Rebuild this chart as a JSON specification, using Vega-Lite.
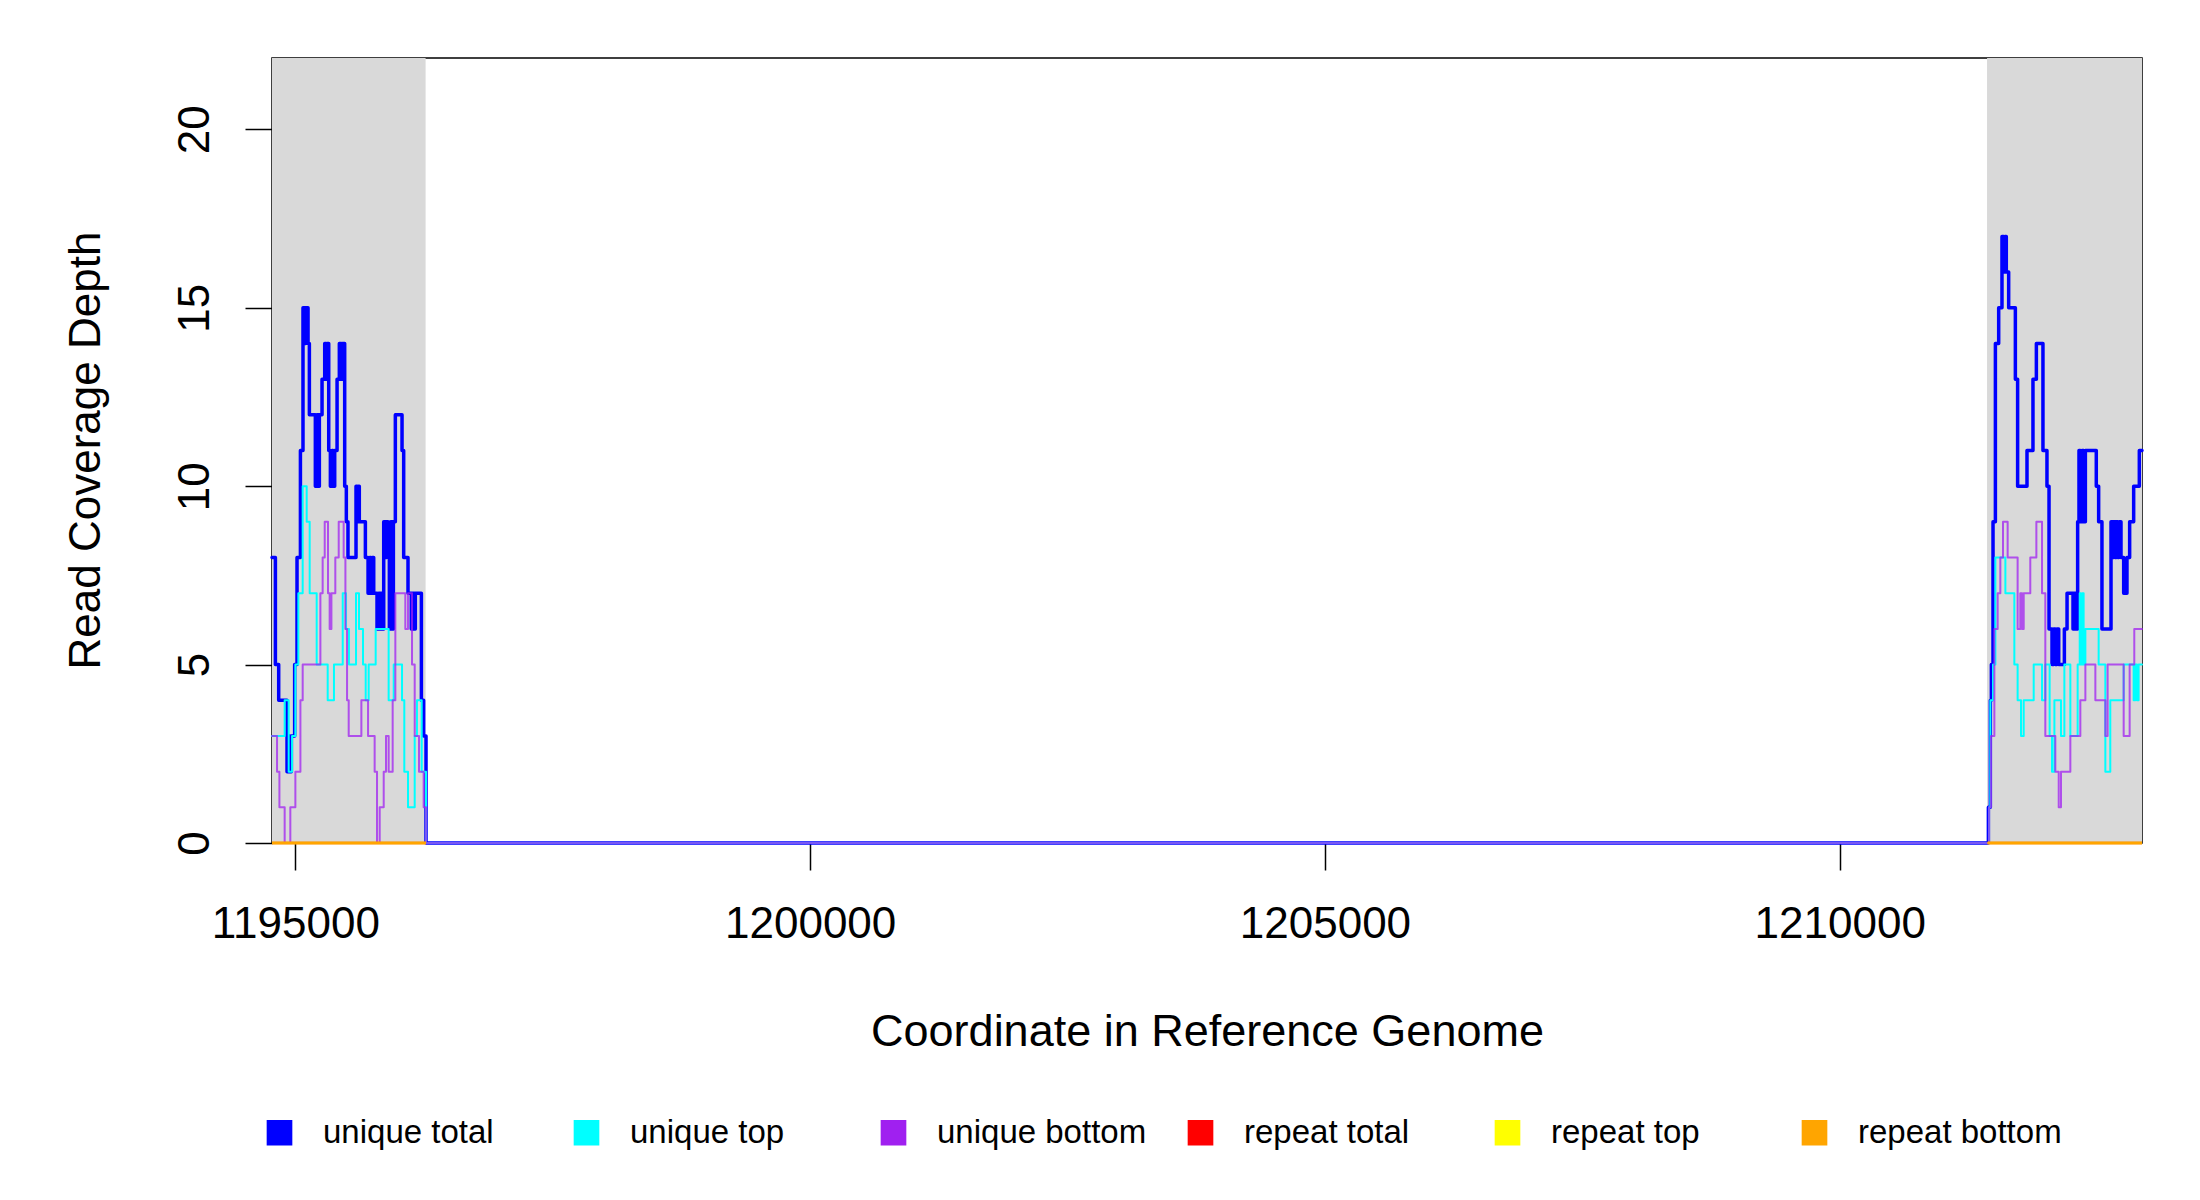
{
  "$schema": "https://vega.github.io/schema/vega-lite/v6.json",
  "width": 1870,
  "height": 785,
  "autosize": "none",
  "padding": {"left": 272, "top": 58, "right": 58, "bottom": 357},
  "background": "white",
  "datasets": {
    "shade": [
      {"start": 1194773, "end": 1196265},
      {"start": 1211431, "end": 1212936}
    ],
    "cov": [
      {"s": "unique total", "seg": "u", "x": 1194773, "d": 8},
      {"s": "unique total", "seg": "u", "x": 1194806, "d": 5},
      {"s": "unique total", "seg": "u", "x": 1194838, "d": 4},
      {"s": "unique total", "seg": "u", "x": 1194919, "d": 2},
      {"s": "unique total", "seg": "u", "x": 1194935, "d": 3},
      {"s": "unique total", "seg": "u", "x": 1194945, "d": 2},
      {"s": "unique total", "seg": "u", "x": 1194961, "d": 3},
      {"s": "unique total", "seg": "u", "x": 1194993, "d": 5},
      {"s": "unique total", "seg": "u", "x": 1195016, "d": 8},
      {"s": "unique total", "seg": "u", "x": 1195049, "d": 11},
      {"s": "unique total", "seg": "u", "x": 1195074, "d": 15},
      {"s": "unique total", "seg": "u", "x": 1195091, "d": 14},
      {"s": "unique total", "seg": "u", "x": 1195100, "d": 15},
      {"s": "unique total", "seg": "u", "x": 1195123, "d": 14},
      {"s": "unique total", "seg": "u", "x": 1195136, "d": 12},
      {"s": "unique total", "seg": "u", "x": 1195194, "d": 10},
      {"s": "unique total", "seg": "u", "x": 1195210, "d": 12},
      {"s": "unique total", "seg": "u", "x": 1195220, "d": 10},
      {"s": "unique total", "seg": "u", "x": 1195233, "d": 12},
      {"s": "unique total", "seg": "u", "x": 1195259, "d": 13},
      {"s": "unique total", "seg": "u", "x": 1195285, "d": 14},
      {"s": "unique total", "seg": "u", "x": 1195298, "d": 13},
      {"s": "unique total", "seg": "u", "x": 1195307, "d": 14},
      {"s": "unique total", "seg": "u", "x": 1195324, "d": 11},
      {"s": "unique total", "seg": "u", "x": 1195340, "d": 10},
      {"s": "unique total", "seg": "u", "x": 1195356, "d": 11},
      {"s": "unique total", "seg": "u", "x": 1195366, "d": 10},
      {"s": "unique total", "seg": "u", "x": 1195382, "d": 11},
      {"s": "unique total", "seg": "u", "x": 1195405, "d": 13},
      {"s": "unique total", "seg": "u", "x": 1195427, "d": 14},
      {"s": "unique total", "seg": "u", "x": 1195447, "d": 13},
      {"s": "unique total", "seg": "u", "x": 1195456, "d": 14},
      {"s": "unique total", "seg": "u", "x": 1195479, "d": 10},
      {"s": "unique total", "seg": "u", "x": 1195495, "d": 9},
      {"s": "unique total", "seg": "u", "x": 1195511, "d": 8},
      {"s": "unique total", "seg": "u", "x": 1195589, "d": 10},
      {"s": "unique total", "seg": "u", "x": 1195602, "d": 9},
      {"s": "unique total", "seg": "u", "x": 1195612, "d": 10},
      {"s": "unique total", "seg": "u", "x": 1195621, "d": 9},
      {"s": "unique total", "seg": "u", "x": 1195680, "d": 8},
      {"s": "unique total", "seg": "u", "x": 1195706, "d": 7},
      {"s": "unique total", "seg": "u", "x": 1195722, "d": 8},
      {"s": "unique total", "seg": "u", "x": 1195735, "d": 7},
      {"s": "unique total", "seg": "u", "x": 1195748, "d": 8},
      {"s": "unique total", "seg": "u", "x": 1195761, "d": 7},
      {"s": "unique total", "seg": "u", "x": 1195793, "d": 6},
      {"s": "unique total", "seg": "u", "x": 1195809, "d": 7},
      {"s": "unique total", "seg": "u", "x": 1195819, "d": 6},
      {"s": "unique total", "seg": "u", "x": 1195832, "d": 7},
      {"s": "unique total", "seg": "u", "x": 1195842, "d": 6},
      {"s": "unique total", "seg": "u", "x": 1195858, "d": 9},
      {"s": "unique total", "seg": "u", "x": 1195874, "d": 8},
      {"s": "unique total", "seg": "u", "x": 1195887, "d": 9},
      {"s": "unique total", "seg": "u", "x": 1195900, "d": 8},
      {"s": "unique total", "seg": "u", "x": 1195913, "d": 6},
      {"s": "unique total", "seg": "u", "x": 1195926, "d": 9},
      {"s": "unique total", "seg": "u", "x": 1195939, "d": 6},
      {"s": "unique total", "seg": "u", "x": 1195952, "d": 9},
      {"s": "unique total", "seg": "u", "x": 1195971, "d": 12},
      {"s": "unique total", "seg": "u", "x": 1196036, "d": 11},
      {"s": "unique total", "seg": "u", "x": 1196052, "d": 8},
      {"s": "unique total", "seg": "u", "x": 1196094, "d": 7},
      {"s": "unique total", "seg": "u", "x": 1196126, "d": 6},
      {"s": "unique total", "seg": "u", "x": 1196139, "d": 7},
      {"s": "unique total", "seg": "u", "x": 1196152, "d": 6},
      {"s": "unique total", "seg": "u", "x": 1196165, "d": 7},
      {"s": "unique total", "seg": "u", "x": 1196224, "d": 4},
      {"s": "unique total", "seg": "u", "x": 1196246, "d": 3},
      {"s": "unique total", "seg": "u", "x": 1196269, "d": 0},
      {"s": "unique total", "seg": "u", "x": 1211437, "d": 0},
      {"s": "unique total", "seg": "u", "x": 1211444, "d": 1},
      {"s": "unique total", "seg": "u", "x": 1211463, "d": 4},
      {"s": "unique total", "seg": "u", "x": 1211473, "d": 5},
      {"s": "unique total", "seg": "u", "x": 1211489, "d": 9},
      {"s": "unique total", "seg": "u", "x": 1211512, "d": 14},
      {"s": "unique total", "seg": "u", "x": 1211544, "d": 15},
      {"s": "unique total", "seg": "u", "x": 1211576, "d": 17},
      {"s": "unique total", "seg": "u", "x": 1211592, "d": 16},
      {"s": "unique total", "seg": "u", "x": 1211605, "d": 17},
      {"s": "unique total", "seg": "u", "x": 1211618, "d": 16},
      {"s": "unique total", "seg": "u", "x": 1211641, "d": 15},
      {"s": "unique total", "seg": "u", "x": 1211706, "d": 13},
      {"s": "unique total", "seg": "u", "x": 1211728, "d": 10},
      {"s": "unique total", "seg": "u", "x": 1211819, "d": 11},
      {"s": "unique total", "seg": "u", "x": 1211877, "d": 13},
      {"s": "unique total", "seg": "u", "x": 1211910, "d": 14},
      {"s": "unique total", "seg": "u", "x": 1211974, "d": 11},
      {"s": "unique total", "seg": "u", "x": 1212013, "d": 10},
      {"s": "unique total", "seg": "u", "x": 1212033, "d": 6},
      {"s": "unique total", "seg": "u", "x": 1212062, "d": 5},
      {"s": "unique total", "seg": "u", "x": 1212078, "d": 6},
      {"s": "unique total", "seg": "u", "x": 1212094, "d": 5},
      {"s": "unique total", "seg": "u", "x": 1212110, "d": 6},
      {"s": "unique total", "seg": "u", "x": 1212127, "d": 5},
      {"s": "unique total", "seg": "u", "x": 1212182, "d": 6},
      {"s": "unique total", "seg": "u", "x": 1212208, "d": 7},
      {"s": "unique total", "seg": "u", "x": 1212266, "d": 6},
      {"s": "unique total", "seg": "u", "x": 1212279, "d": 7},
      {"s": "unique total", "seg": "u", "x": 1212298, "d": 6},
      {"s": "unique total", "seg": "u", "x": 1212311, "d": 9},
      {"s": "unique total", "seg": "u", "x": 1212324, "d": 11},
      {"s": "unique total", "seg": "u", "x": 1212337, "d": 9},
      {"s": "unique total", "seg": "u", "x": 1212353, "d": 11},
      {"s": "unique total", "seg": "u", "x": 1212369, "d": 9},
      {"s": "unique total", "seg": "u", "x": 1212386, "d": 11},
      {"s": "unique total", "seg": "u", "x": 1212492, "d": 10},
      {"s": "unique total", "seg": "u", "x": 1212515, "d": 9},
      {"s": "unique total", "seg": "u", "x": 1212547, "d": 6},
      {"s": "unique total", "seg": "u", "x": 1212635, "d": 9},
      {"s": "unique total", "seg": "u", "x": 1212648, "d": 8},
      {"s": "unique total", "seg": "u", "x": 1212661, "d": 9},
      {"s": "unique total", "seg": "u", "x": 1212674, "d": 8},
      {"s": "unique total", "seg": "u", "x": 1212687, "d": 9},
      {"s": "unique total", "seg": "u", "x": 1212700, "d": 8},
      {"s": "unique total", "seg": "u", "x": 1212712, "d": 9},
      {"s": "unique total", "seg": "u", "x": 1212732, "d": 8},
      {"s": "unique total", "seg": "u", "x": 1212758, "d": 7},
      {"s": "unique total", "seg": "u", "x": 1212790, "d": 8},
      {"s": "unique total", "seg": "u", "x": 1212816, "d": 9},
      {"s": "unique total", "seg": "u", "x": 1212855, "d": 10},
      {"s": "unique total", "seg": "u", "x": 1212910, "d": 11},
      {"s": "unique total", "seg": "u", "x": 1212936, "d": 11},

      {"s": "unique top", "seg": "u", "x": 1194773, "d": 3},
      {"s": "unique top", "seg": "u", "x": 1194896, "d": 4},
      {"s": "unique top", "seg": "u", "x": 1194935, "d": 2},
      {"s": "unique top", "seg": "u", "x": 1194968, "d": 3},
      {"s": "unique top", "seg": "u", "x": 1195000, "d": 5},
      {"s": "unique top", "seg": "u", "x": 1195029, "d": 7},
      {"s": "unique top", "seg": "u", "x": 1195071, "d": 10},
      {"s": "unique top", "seg": "u", "x": 1195110, "d": 9},
      {"s": "unique top", "seg": "u", "x": 1195139, "d": 7},
      {"s": "unique top", "seg": "u", "x": 1195207, "d": 5},
      {"s": "unique top", "seg": "u", "x": 1195314, "d": 4},
      {"s": "unique top", "seg": "u", "x": 1195375, "d": 5},
      {"s": "unique top", "seg": "u", "x": 1195460, "d": 7},
      {"s": "unique top", "seg": "u", "x": 1195492, "d": 6},
      {"s": "unique top", "seg": "u", "x": 1195521, "d": 5},
      {"s": "unique top", "seg": "u", "x": 1195589, "d": 7},
      {"s": "unique top", "seg": "u", "x": 1195618, "d": 6},
      {"s": "unique top", "seg": "u", "x": 1195657, "d": 5},
      {"s": "unique top", "seg": "u", "x": 1195683, "d": 4},
      {"s": "unique top", "seg": "u", "x": 1195712, "d": 5},
      {"s": "unique top", "seg": "u", "x": 1195780, "d": 6},
      {"s": "unique top", "seg": "u", "x": 1195906, "d": 4},
      {"s": "unique top", "seg": "u", "x": 1195955, "d": 5},
      {"s": "unique top", "seg": "u", "x": 1196036, "d": 4},
      {"s": "unique top", "seg": "u", "x": 1196058, "d": 2},
      {"s": "unique top", "seg": "u", "x": 1196094, "d": 1},
      {"s": "unique top", "seg": "u", "x": 1196159, "d": 3},
      {"s": "unique top", "seg": "u", "x": 1196181, "d": 4},
      {"s": "unique top", "seg": "u", "x": 1196227, "d": 2},
      {"s": "unique top", "seg": "u", "x": 1196269, "d": 0},
      {"s": "unique top", "seg": "u", "x": 1211437, "d": 0},
      {"s": "unique top", "seg": "u", "x": 1211450, "d": 1},
      {"s": "unique top", "seg": "u", "x": 1211463, "d": 4},
      {"s": "unique top", "seg": "u", "x": 1211489, "d": 5},
      {"s": "unique top", "seg": "u", "x": 1211512, "d": 8},
      {"s": "unique top", "seg": "u", "x": 1211609, "d": 7},
      {"s": "unique top", "seg": "u", "x": 1211696, "d": 5},
      {"s": "unique top", "seg": "u", "x": 1211728, "d": 4},
      {"s": "unique top", "seg": "u", "x": 1211761, "d": 3},
      {"s": "unique top", "seg": "u", "x": 1211787, "d": 4},
      {"s": "unique top", "seg": "u", "x": 1211884, "d": 5},
      {"s": "unique top", "seg": "u", "x": 1211965, "d": 4},
      {"s": "unique top", "seg": "u", "x": 1211997, "d": 5},
      {"s": "unique top", "seg": "u", "x": 1212039, "d": 3},
      {"s": "unique top", "seg": "u", "x": 1212062, "d": 2},
      {"s": "unique top", "seg": "u", "x": 1212085, "d": 4},
      {"s": "unique top", "seg": "u", "x": 1212149, "d": 3},
      {"s": "unique top", "seg": "u", "x": 1212182, "d": 5},
      {"s": "unique top", "seg": "u", "x": 1212240, "d": 3},
      {"s": "unique top", "seg": "u", "x": 1212311, "d": 5},
      {"s": "unique top", "seg": "u", "x": 1212331, "d": 7},
      {"s": "unique top", "seg": "u", "x": 1212343, "d": 5},
      {"s": "unique top", "seg": "u", "x": 1212356, "d": 7},
      {"s": "unique top", "seg": "u", "x": 1212369, "d": 5},
      {"s": "unique top", "seg": "u", "x": 1212386, "d": 6},
      {"s": "unique top", "seg": "u", "x": 1212515, "d": 5},
      {"s": "unique top", "seg": "u", "x": 1212580, "d": 2},
      {"s": "unique top", "seg": "u", "x": 1212628, "d": 4},
      {"s": "unique top", "seg": "u", "x": 1212758, "d": 5},
      {"s": "unique top", "seg": "u", "x": 1212855, "d": 4},
      {"s": "unique top", "seg": "u", "x": 1212871, "d": 5},
      {"s": "unique top", "seg": "u", "x": 1212887, "d": 4},
      {"s": "unique top", "seg": "u", "x": 1212903, "d": 5},
      {"s": "unique top", "seg": "u", "x": 1212936, "d": 5},

      {"s": "unique bottom", "seg": "u", "x": 1194773, "d": 3},
      {"s": "unique bottom", "seg": "u", "x": 1194822, "d": 2},
      {"s": "unique bottom", "seg": "u", "x": 1194845, "d": 1},
      {"s": "unique bottom", "seg": "u", "x": 1194896, "d": 0},
      {"s": "unique bottom", "seg": "u", "x": 1194951, "d": 1},
      {"s": "unique bottom", "seg": "u", "x": 1195000, "d": 2},
      {"s": "unique bottom", "seg": "u", "x": 1195049, "d": 4},
      {"s": "unique bottom", "seg": "u", "x": 1195071, "d": 5},
      {"s": "unique bottom", "seg": "u", "x": 1195243, "d": 7},
      {"s": "unique bottom", "seg": "u", "x": 1195265, "d": 8},
      {"s": "unique bottom", "seg": "u", "x": 1195285, "d": 9},
      {"s": "unique bottom", "seg": "u", "x": 1195317, "d": 7},
      {"s": "unique bottom", "seg": "u", "x": 1195333, "d": 6},
      {"s": "unique bottom", "seg": "u", "x": 1195350, "d": 7},
      {"s": "unique bottom", "seg": "u", "x": 1195388, "d": 8},
      {"s": "unique bottom", "seg": "u", "x": 1195421, "d": 9},
      {"s": "unique bottom", "seg": "u", "x": 1195469, "d": 8},
      {"s": "unique bottom", "seg": "u", "x": 1195486, "d": 6},
      {"s": "unique bottom", "seg": "u", "x": 1195502, "d": 4},
      {"s": "unique bottom", "seg": "u", "x": 1195518, "d": 3},
      {"s": "unique bottom", "seg": "u", "x": 1195641, "d": 4},
      {"s": "unique bottom", "seg": "u", "x": 1195706, "d": 3},
      {"s": "unique bottom", "seg": "u", "x": 1195770, "d": 2},
      {"s": "unique bottom", "seg": "u", "x": 1195793, "d": 0},
      {"s": "unique bottom", "seg": "u", "x": 1195819, "d": 1},
      {"s": "unique bottom", "seg": "u", "x": 1195858, "d": 2},
      {"s": "unique bottom", "seg": "u", "x": 1195880, "d": 3},
      {"s": "unique bottom", "seg": "u", "x": 1195906, "d": 2},
      {"s": "unique bottom", "seg": "u", "x": 1195945, "d": 4},
      {"s": "unique bottom", "seg": "u", "x": 1195971, "d": 7},
      {"s": "unique bottom", "seg": "u", "x": 1196068, "d": 6},
      {"s": "unique bottom", "seg": "u", "x": 1196094, "d": 7},
      {"s": "unique bottom", "seg": "u", "x": 1196133, "d": 5},
      {"s": "unique bottom", "seg": "u", "x": 1196159, "d": 3},
      {"s": "unique bottom", "seg": "u", "x": 1196201, "d": 2},
      {"s": "unique bottom", "seg": "u", "x": 1196246, "d": 1},
      {"s": "unique bottom", "seg": "u", "x": 1196269, "d": 0},
      {"s": "unique bottom", "seg": "u", "x": 1211437, "d": 0},
      {"s": "unique bottom", "seg": "u", "x": 1211450, "d": 1},
      {"s": "unique bottom", "seg": "u", "x": 1211469, "d": 3},
      {"s": "unique bottom", "seg": "u", "x": 1211502, "d": 6},
      {"s": "unique bottom", "seg": "u", "x": 1211534, "d": 7},
      {"s": "unique bottom", "seg": "u", "x": 1211560, "d": 8},
      {"s": "unique bottom", "seg": "u", "x": 1211586, "d": 9},
      {"s": "unique bottom", "seg": "u", "x": 1211631, "d": 8},
      {"s": "unique bottom", "seg": "u", "x": 1211728, "d": 6},
      {"s": "unique bottom", "seg": "u", "x": 1211754, "d": 7},
      {"s": "unique bottom", "seg": "u", "x": 1211771, "d": 6},
      {"s": "unique bottom", "seg": "u", "x": 1211787, "d": 7},
      {"s": "unique bottom", "seg": "u", "x": 1211851, "d": 8},
      {"s": "unique bottom", "seg": "u", "x": 1211910, "d": 9},
      {"s": "unique bottom", "seg": "u", "x": 1211965, "d": 7},
      {"s": "unique bottom", "seg": "u", "x": 1211997, "d": 3},
      {"s": "unique bottom", "seg": "u", "x": 1212094, "d": 2},
      {"s": "unique bottom", "seg": "u", "x": 1212127, "d": 1},
      {"s": "unique bottom", "seg": "u", "x": 1212149, "d": 2},
      {"s": "unique bottom", "seg": "u", "x": 1212240, "d": 3},
      {"s": "unique bottom", "seg": "u", "x": 1212337, "d": 4},
      {"s": "unique bottom", "seg": "u", "x": 1212386, "d": 5},
      {"s": "unique bottom", "seg": "u", "x": 1212483, "d": 4},
      {"s": "unique bottom", "seg": "u", "x": 1212580, "d": 3},
      {"s": "unique bottom", "seg": "u", "x": 1212602, "d": 5},
      {"s": "unique bottom", "seg": "u", "x": 1212758, "d": 3},
      {"s": "unique bottom", "seg": "u", "x": 1212816, "d": 5},
      {"s": "unique bottom", "seg": "u", "x": 1212861, "d": 6},
      {"s": "unique bottom", "seg": "u", "x": 1212936, "d": 6},

      {"s": "repeat total", "seg": "left", "x": 1194773, "d": 0},
      {"s": "repeat total", "seg": "left", "x": 1196269, "d": 0},
      {"s": "repeat total", "seg": "right", "x": 1211437, "d": 0},
      {"s": "repeat total", "seg": "right", "x": 1212936, "d": 0},
      {"s": "repeat top", "seg": "left", "x": 1194773, "d": 0},
      {"s": "repeat top", "seg": "left", "x": 1196269, "d": 0},
      {"s": "repeat top", "seg": "right", "x": 1211437, "d": 0},
      {"s": "repeat top", "seg": "right", "x": 1212936, "d": 0},
      {"s": "repeat bottom", "seg": "left", "x": 1194773, "d": 0},
      {"s": "repeat bottom", "seg": "left", "x": 1196269, "d": 0},
      {"s": "repeat bottom", "seg": "right", "x": 1211437, "d": 0},
      {"s": "repeat bottom", "seg": "right", "x": 1212936, "d": 0}
    ]
  },
  "layer": [
    {
      "data": {"name": "shade"},
      "mark": {"type": "rect", "fill": "#D9D9D9", "stroke": null},
      "encoding": {
        "x": {"field": "start", "type": "quantitative", "title": "Coordinate in Reference Genome", "scale": {"domain": [1194773, 1212936], "nice": false, "zero": false}},
        "x2": {"field": "end"},
        "y": {"datum": 0, "type": "quantitative", "title": "Read Coverage Depth", "scale": {"domain": [0, 22], "nice": false}},
        "y2": {"datum": 22}
      }
    },
    {
      "data": {"name": "cov"},
      "layer": [
        {
          "transform": [{"filter": "datum.s === 'unique total'"}],
          "mark": {"type": "line", "interpolate": "step-after", "strokeWidth": 3.5, "strokeJoin": "round", "strokeCap": "round"}
        },
        {
          "transform": [{"filter": "datum.s === 'unique top'"}],
          "mark": {"type": "line", "interpolate": "step-after", "strokeWidth": 2, "strokeJoin": "round", "strokeCap": "round"}
        },
        {
          "transform": [{"filter": "datum.s === 'unique bottom'"}],
          "mark": {"type": "line", "interpolate": "step-after", "strokeWidth": 2, "opacity": 0.75, "strokeJoin": "round", "strokeCap": "round"}
        },
        {
          "transform": [{"filter": "datum.s === 'repeat total' || datum.s === 'repeat top'"}],
          "mark": {"type": "line", "interpolate": "step-after", "strokeWidth": 2.5}
        },
        {
          "transform": [{"filter": "datum.s === 'repeat bottom'"}],
          "mark": {"type": "line", "interpolate": "step-after", "strokeWidth": 2.5}
        }
      ],
      "encoding": {
        "x": {
          "field": "x",
          "type": "quantitative",
          "scale": {"domain": [1194773, 1212936], "nice": false, "zero": false},
          "axis": {
            "values": [1195000, 1200000, 1205000, 1210000],
            "format": "d",
            "title": "Coordinate in Reference Genome",
            "grid": false,
            "domain": false,
            "tickSize": 27,
            "tickWidth": 1.5,
            "tickColor": "black",
            "labelFontSize": 44,
            "labelColor": "black",
            "labelBaseline": "alphabetic",
            "labelPadding": 67,
            "labelFlush": false,
            "labelOverlap": false,
            "titleFontSize": 45,
            "titleFontWeight": "normal",
            "titleColor": "black",
            "titleBaseline": "alphabetic",
            "titleY": 202
          }
        },
        "y": {
          "field": "d",
          "type": "quantitative",
          "scale": {"domain": [0, 22], "nice": false},
          "axis": {
            "values": [0, 5, 10, 15, 20],
            "title": "Read Coverage Depth",
            "grid": false,
            "domain": false,
            "tickSize": 27,
            "tickWidth": 1.5,
            "tickColor": "black",
            "labelFontSize": 44,
            "labelColor": "black",
            "labelAngle": -90,
            "labelAlign": "center",
            "labelBaseline": "alphabetic",
            "labelPadding": 37,
            "labelFlush": false,
            "labelOverlap": false,
            "titleFontSize": 44,
            "titleFontWeight": "normal",
            "titleColor": "black",
            "titleAngle": -90,
            "titleAlign": "center",
            "titleBaseline": "alphabetic",
            "titleX": -173,
            "titleY": 392
          }
        },
        "detail": {"field": "seg"},
        "color": {
          "field": "s",
          "type": "nominal",
          "scale": {
            "domain": ["unique total", "unique top", "unique bottom", "repeat total", "repeat top", "repeat bottom"],
            "range": ["#0000FF", "#00FFFF", "#A020F0", "#FF0000", "#FFFF00", "#FFA500"]
          },
          "legend": {
            "title": null,
            "orient": "none",
            "legendX": -9,
            "legendY": 1058,
            "direction": "horizontal",
            "columns": 6,
            "gridAlign": "all",
            "columnPadding": 37,
            "symbolType": "square",
            "symbolSize": 560,
            "symbolStrokeColor": "black",
            "symbolStrokeWidth": 2,
            "labelFontSize": 33,
            "labelColor": "black",
            "labelOffset": 27,
            "labelLimit": 400,
            "padding": 0,
            "encode": {
              "symbols": {
                "enter": {
                  "stroke": {"value": "#000000"},
                  "strokeWidth": {"value": 2}
                },
                "update": {
                  "fill": {"scale": "color", "field": "value"},
                  "stroke": {"value": "#000000"},
                  "strokeWidth": {"value": 2},
                  "opacity": {"value": 1}
                }
              }
            }
          }
        }
      }
    }
  ],
  "config": {
    "font": "Liberation Sans",
    "view": {"stroke": "black", "strokeWidth": 1.5}
  }
}
